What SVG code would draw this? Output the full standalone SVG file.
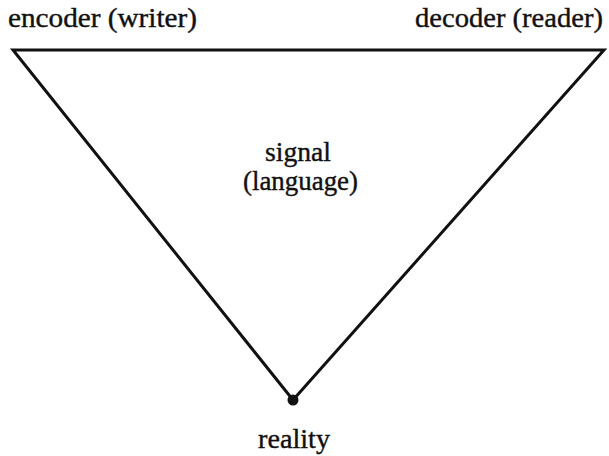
<svg xmlns="http://www.w3.org/2000/svg" width="609" height="456" viewBox="0 0 609 456">
<style>
text{font-family:"Liberation Serif","Times New Roman",serif;font-size:28px;fill:#111;stroke:#111;stroke-width:0.4}
.edge{stroke:#111;stroke-width:3;fill:none;stroke-linejoin:miter}
</style>
<rect width="609" height="456" fill="#fff"/>
<g id="connectors">
<polyline class="edge" points="293,400 13,50 604,50 293,400"/>
</g>
<g id="encoder"><text x="8" y="27" textLength="189" lengthAdjust="spacingAndGlyphs">encoder (writer)</text></g>
<g id="decoder"><text x="415" y="27" textLength="188" lengthAdjust="spacingAndGlyphs">decoder (reader)</text></g>
<g id="signal"><text x="265" y="161" textLength="66" lengthAdjust="spacingAndGlyphs">signal</text><text x="243" y="190" textLength="115" lengthAdjust="spacingAndGlyphs">(language)</text></g>
<g id="reality"><circle cx="293" cy="400" r="5.5" fill="#111"/><text x="258" y="448" textLength="72" lengthAdjust="spacingAndGlyphs">reality</text></g>
</svg>
